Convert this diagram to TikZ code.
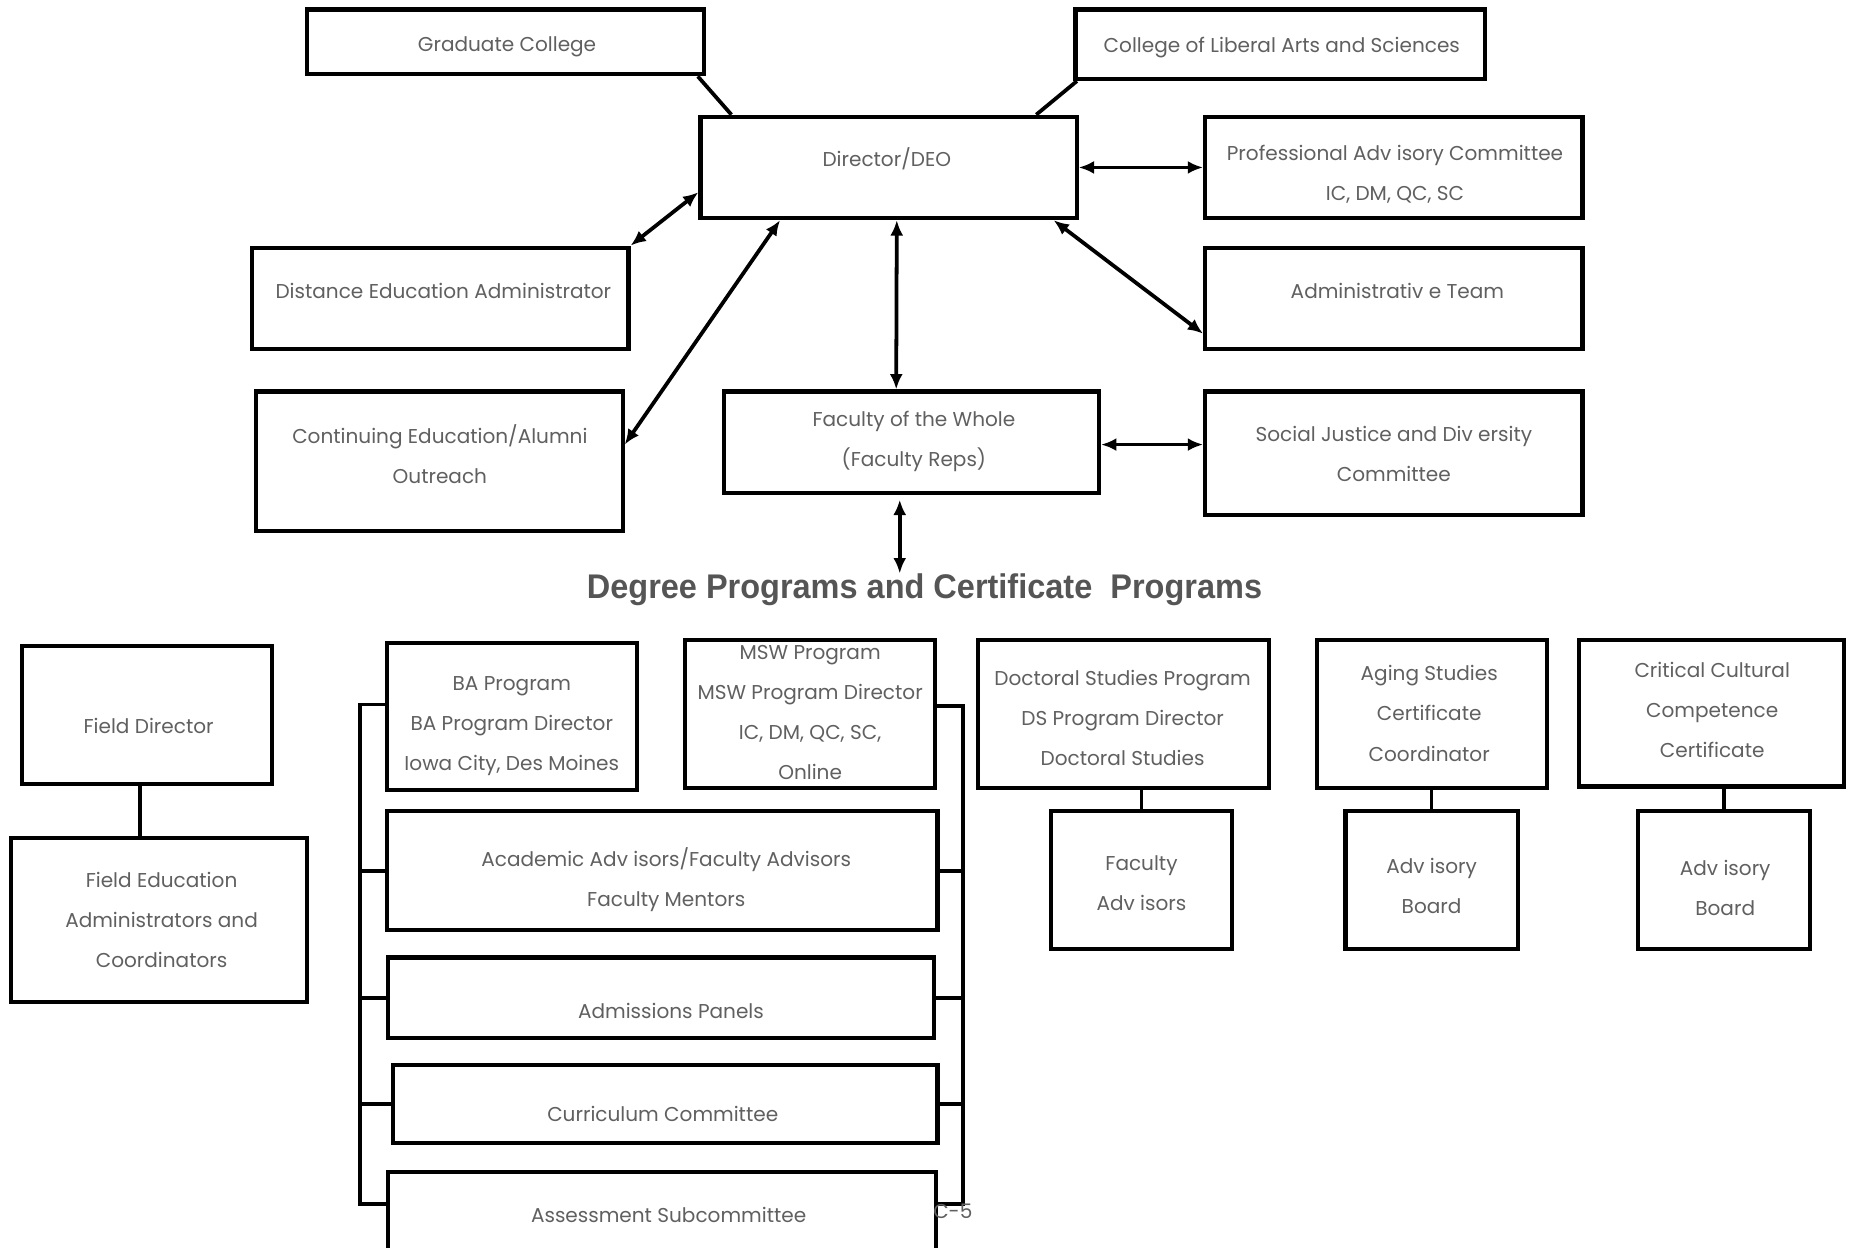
\documentclass[tikz,border=0pt]{standalone}
\usepackage{fontspec}
\setmainfont{Poppins}
\newfontfamily\headfont{Liberation Sans}[FakeStretch=0.95]
\usetikzlibrary{arrows.meta}
\definecolor{textgray}{RGB}{96,96,96}
\definecolor{headgray}{RGB}{85,85,85}
\tikzset{
    box/.style={draw, rectangle, line width=3.5pt, inner sep=0pt},
    txt/.style={font=\fontsize{17}{34}\selectfont, text=textgray, align=center, inner sep=0pt},
    head/.style={font=\headfont\bfseries\fontsize{29}{32}\selectfont, text=headgray, inner sep=0pt},
    link/.style={line width=3.2pt},
    dbl/.style={link, {Latex[length=13pt, width=11pt]}-{Latex[length=13pt, width=11pt]}}
}

\begin{document}
\begin{tikzpicture}[x=1pt, y=-1pt]
        \useasboundingbox (0,0) rectangle (1568,1058);
        \clip (0,0) rectangle (1568,1058);
        \fill[white] (0,0) rectangle (1568,1058);

        \node[box, minimum width=337, minimum height=55] (grad) at (428.5,35.5) {};
        \node[box, minimum width=347, minimum height=59] (clas) at (1085.5,37.5) {};
        \node[box, minimum width=319, minimum height=86] (dir) at (753.5,142) {};
        \node[box, minimum width=320, minimum height=86] (prof) at (1182,142) {};
        \node[box, minimum width=319, minimum height=86] (dist) at (373.5,253) {};
        \node[box, minimum width=320, minimum height=86] (adm) at (1182,253) {};
        \node[box, minimum width=311, minimum height=118] (cont) at (372.5,391) {};
        \node[box, minimum width=318, minimum height=86] (fac) at (773,375) {};
        \node[box, minimum width=320, minimum height=105] (soc) at (1182,384.5) {};

        \node[txt] (grad-t) at (430,40) {Graduate College};
        \node[txt] (clas-t) at (1087,40) {College of Liberal Arts and Sciences};
        \node[txt] (dir-t) at (752,135) {Director/DEO};
        \node[txt] (prof-t) at (1183,147.5) {Professional Adv isory Committee\\IC, DM, QC, SC};
        \node[txt] (dist-t) at (376,247) {Distance Education Administrator};
        \node[txt] (adm-t) at (1185,247) {Administrativ e Team};
        \node[txt] (cont-t) at (373,385) {Continuing Education/Alumni\\Outreach};
        \node[txt] (fac-t) at (775,374) {Faculty of the Whole\\(Faculty Reps)};
        \node[txt] (soc-t) at (1182,385) {Social Justice and Div ersity\\Committee};
        \node[head] (head) at (784,500) {Degree Programs and Certificate \ Programs};

        \draw[link] ([xshift=-7]grad.south east) -- ([xshift=28]dir.north west);
        \draw[link] ([xshift=3]clas.south west) -- ([xshift=-36]dir.north east);
        \draw[dbl] (dir) -- (prof);
        \draw[dbl] ([yshift=-21]dir.west) -- (dist.north east);
        \draw[dbl] ([xshift=-92]dir.south) -- ([yshift=14]cont.east);
        \draw[dbl] ([xshift=7]dir.south) -- ([xshift=-13]fac.north);
        \draw[dbl] ([xshift=140]dir.south) -- ([yshift=-30]adm.west);
        \draw[dbl] ([yshift=-2]fac.east) -- ([yshift=-2]fac.east -| soc.west);
        \draw[dbl] ([xshift=-10,yshift=-4]fac.south) -- ([xshift=-10]fac.south |- head.north);

        \node[box, minimum width=212, minimum height=117] (fd) at (125,606.5) {};
        \node[box, minimum width=251, minimum height=139] (fe) at (134.5,780.5) {};
        \node[box, minimum width=212, minimum height=125] (ba) at (434,607.5) {};
        \node[box, minimum width=212, minimum height=125] (msw) at (687,605.5) {};
        \node[box, minimum width=467, minimum height=101] (acad) at (561.5,738.5) {};
        \node[box, minimum width=463, minimum height=68] (admp) at (560.5,846) {};
        \node[box, minimum width=462, minimum height=66] (cur) at (564,936) {};
        \node[box, minimum width=465, minimum height=86] (ass) at (561.5,1037) {};
        \node[box, minimum width=247, minimum height=125] (ds) at (952.5,605.5) {};
        \node[box, minimum width=154, minimum height=117] (fa) at (968,746.5) {};
        \node[box, minimum width=195, minimum height=125] (age) at (1214.5,605.5) {};
        \node[box, minimum width=146, minimum height=117] (ab1) at (1214,746.5) {};
        \node[box, minimum width=225, minimum height=124] (ccc) at (1451.5,605) {};
        \node[box, minimum width=146, minimum height=117] (ab2) at (1462,746.5) {};

        \node[txt] (fd-t) at (126,616) {Field Director};
        \node[txt] (fe-t) at (137,780) {Field Education\\Administrators and\\Coordinators};
        \node[txt] (ba-t) at (434,616) {BA Program\\BA Program Director\\Iowa City, Des Moines};
        \node[txt] (msw-t) at (687,604) {MSW Program\\MSW Program Director\\IC, DM, QC, SC,\\Online};
        \node[txt] (acad-t) at (565,746) {Academic Adv isors/Faculty Advisors\\Faculty Mentors};
        \node[txt] (admp-t) at (569,857) {Admissions Panels};
        \node[txt] (cur-t) at (562,945) {Curriculum Committee};
        \node[txt] (ass-t) at (567,1030) {Assessment Subcommittee};
        \node[txt] (ds-t) at (952,609) {Doctoral Studies Program\\DS Program Director\\Doctoral Studies};
        \node[txt] (fa-t) at (968,749) {Faculty\\Adv isors};
        \node[txt] (age-t) at (1212,605) {Aging Studies\\Certificate\\Coordinator};
        \node[txt] (ab1-t) at (1214,751) {Adv isory\\Board};
        \node[txt] (ccc-t) at (1452,602) {Critical Cultural\\Competence\\Certificate};
        \node[txt] (ab2-t) at (1463,753) {Adv isory\\Board};

        \draw[link] ([xshift=-6]fd.south) -- ([xshift=-6]fd.south |- fe.north);
        \draw[link] ([yshift=10]ba.west) -- ++(-21,0) coordinate (spine-l) |- ([yshift=16]ass.west);
        \draw[link] ([yshift=7]msw.east) -- ++(22,0) coordinate (spine-r) |- ([yshift=16]ass.east);
        \foreach \n in {acad, admp, cur} {
            \draw[link] (\n.west) -- (\n.west -| spine-l);
            \draw[link] (\n.east) -- (\n.east -| spine-r);
        }
        \foreach \a/\b in {ds/fa, age/ab1, ccc/ab2}
            \draw[link] (\b.north) -- (\b.north |- \a.south);

        \node[txt] (pg) at (808,1027) {C-5};
    \end{tikzpicture}
\end{document}
